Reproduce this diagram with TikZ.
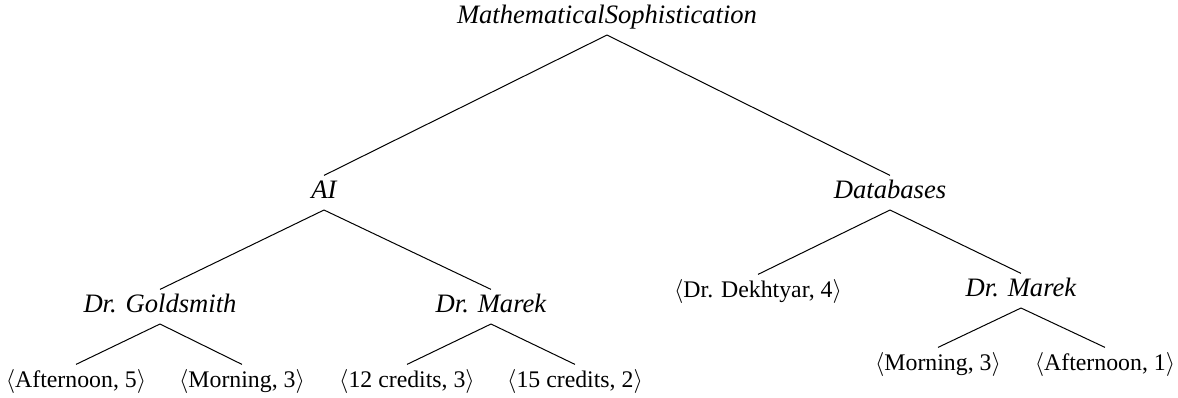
\documentclass[tikz,border=0pt]{standalone}
\usepackage{fontspec}
\setmainfont{Liberation Serif}
\newcommand{\pairtext}[1]{$\langle$#1$\rangle$}
\begin{document}
\begin{tikzpicture}[x=0.5pt,y=-0.5pt,line width=0.5pt,
	topic/.style={anchor=base,font=\fontsize{13.3}{16}\selectfont\itshape,text height=9.3pt,text depth=4pt,inner sep=2pt,outer sep=0pt},
	leaf/.style={topic,font=\fontsize{11.9}{14}\selectfont}]
	\useasboundingbox (0,0) rectangle (1178,397);
	% top level
	\node[topic] (root) at (607,23) {MathematicalSophistication};
	\node[topic] (ai) at (324,198) {AI};
	\node[topic] (db) at (890,198) {Databases};
	% AI subtree
	\node[topic] (gold) at (160,312) {Dr. Goldsmith};
	\node[topic] (marekai) at (491,312) {Dr. Marek};
	\node[leaf] (gafter) at (76,387) {\pairtext{Afternoon, 5}};
	\node[leaf] (gmorn) at (242,387) {\pairtext{Morning, 3}};
	\node[leaf] (mtwelve) at (407,387) {\pairtext{12 credits, 3}};
	\node[leaf] (mfifteen) at (575,387) {\pairtext{15 credits, 2}};
	% Databases subtree
	\node[leaf] (dekh) at (758,297) {\pairtext{Dr. Dekhtyar, 4}};
	\node[topic] (marekdb) at (1021,296) {Dr. Marek};
	\node[leaf] (dmorn) at (938,370) {\pairtext{Morning, 3}};
	\node[leaf] (dafter) at (1105,370) {\pairtext{Afternoon, 1}};
	% branches
	\draw (root.south) -- (ai.north);
	\draw (root.south) -- (db.north);
	\draw (ai.south) -- (gold.north);
	\draw (ai.south) -- (marekai.north);
	\draw (gold.south) -- (gafter.north);
	\draw (gold.south) -- (gmorn.north);
	\draw (marekai.south) -- (mtwelve.north);
	\draw (marekai.south) -- (mfifteen.north);
	\draw (db.south) -- (dekh.north);
	\draw (db.south) -- (marekdb.north);
	\draw (marekdb.south) -- (dmorn.north);
	\draw (marekdb.south) -- (dafter.north);
\end{tikzpicture}
\end{document}
